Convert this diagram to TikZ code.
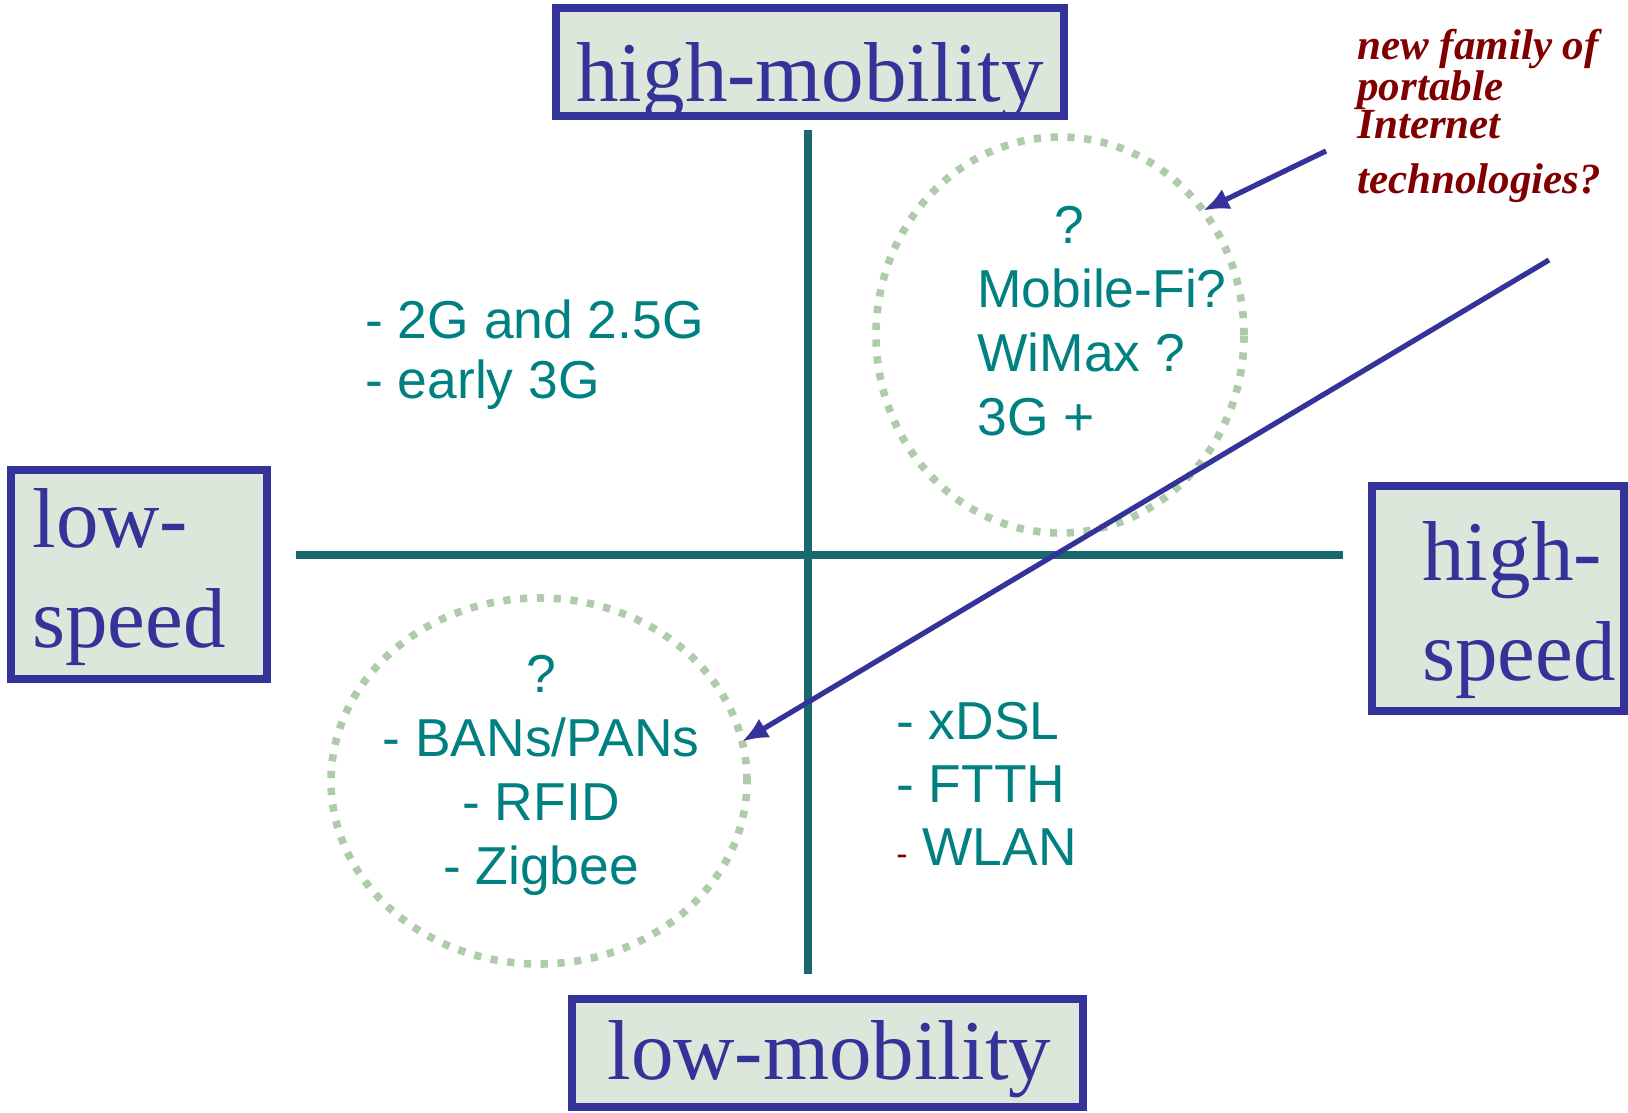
\documentclass[tikz,border=0pt]{standalone}
\usepackage{fontspec}
\setmainfont{Liberation Serif}
\newfontfamily\arialfont{Liberation Sans}
\usetikzlibrary{shapes.geometric,arrows.meta}

\definecolor{boxblue}{RGB}{51,51,153}
\definecolor{boxfill}{RGB}{221,230,218}
\definecolor{techteal}{RGB}{0,128,128}
\definecolor{axisteal}{RGB}{24,104,108}
\definecolor{dotgreen}{RGB}{176,202,172}
\definecolor{notered}{RGB}{128,0,0}

\tikzset{
    axisbox/.style={draw=boxblue, fill=boxfill, line width=3.75pt},
    boxlabel/.style={text=boxblue, inner sep=0pt, align=left, font=\fontsize{#1}{50}\selectfont},
    boxlabel/.default=42.5,
    techlist/.style={text=techteal, inner sep=0pt, font=\arialfont\fontsize{26.7}{#1}\selectfont},
    techlist/.default=32,
    zone/.style={ellipse, draw=dotgreen, line width=3.8pt, dash pattern=on 3.6pt off 4.8pt, inner sep=0pt, outer sep=0pt},
    axisline/.style={draw=axisteal, line width=3.75pt},
    pointer/.style={draw=boxblue, line width=2.6pt, -{Latex[length=13pt,width=11pt]}},
    notetext/.style={text=notered, inner sep=0pt, align=left, font=\fontsize{21.5}{18.75}\selectfont\bfseries\itshape}
}

\begin{document}
\begin{tikzpicture}[x=0.5pt, y=-0.5pt]
    \useasboundingbox (0,0) rectangle (1628,1113);

    \draw[axisbox] (556,8) rectangle (1064,116);
    \draw[axisbox] (572,999) rectangle (1083,1107);
    \draw[axisbox] (11,470) rectangle (267,679);
    \draw[axisbox] (1372,486) rectangle (1624,711);

    \node[boxlabel, anchor=base west] (highmob) at (576,102) {high-mobility};
    \node[boxlabel, anchor=base west] (lowmob) at (607,1079) {low-mobility};
    \node[boxlabel, anchor=base west] (lowspeed) at (32,647) {low-\\speed};
    \node[boxlabel, anchor=base west] (highspeed) at (1422,680) {high-\\speed};

    \coordinate (axtop) at (808,130);
    \coordinate (axbottom) at (808,974);
    \coordinate (axleft) at (296,555);
    \coordinate (axright) at (1343,555);
    \draw[axisline] (axtop) -- (axbottom);
    \draw[axisline] (axleft) -- (axright);

    \node[zone, minimum width=184pt, minimum height=198pt] (ur) at (1060,335) {};
    \node[zone, minimum width=208pt, minimum height=183pt] (ll) at (539,781) {};

    \node[techlist=30, anchor=base west, align=left] (cellular) at (365,398) {- 2G and 2.5G\\- early 3G};
    \node[techlist, anchor=base west, align=left] (portable) at (977,435) {\hspace*{38.5pt}?\\Mobile-Fi?\\WiMax ?\\3G +};
    \node[techlist, anchor=base, align=center] (personal) at (541,884) {?\\- BANs/PANs\\- RFID\\- Zigbee};
    \node[techlist=31.5, anchor=base west, align=left] (fixed) at (896,865) {- xDSL\\- FTTH\\{\color{notered}\fontsize{17}{17}\selectfont-} WLAN};

    \node[notetext, anchor=base west] (question) at (1357,193) {new family of\\portable\\Internet\\[8.75pt]technologies?};

    \coordinate (notetail) at (1326,151);
    \coordinate (longtail) at (1549,260);
    \draw[pointer] (notetail) -- (ur.41);
    \draw[pointer] (longtail) -- (ll.11);
\end{tikzpicture}
\end{document}
